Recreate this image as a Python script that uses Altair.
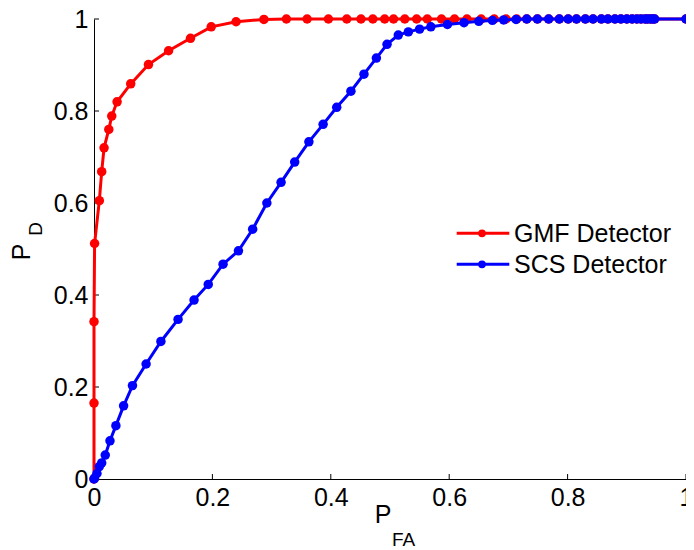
import altair as alt
import pandas as pd

# ---- data ----
GMF_X = [0.0, 0.0, 0.0, 0.001, 0.009, 0.013, 0.017, 0.025, 0.030, 0.039, 0.062, 0.092, 0.126,
         0.163, 0.198, 0.240, 0.287, 0.325, 0.360, 0.396, 0.427, 0.451, 0.471, 0.491, 0.506,
         0.525, 0.545, 0.563, 0.587, 0.609, 0.630, 0.654, 0.676, 0.696, 0.714, 0.731,
         0.749, 0.768, 0.786, 0.801, 0.815, 0.830, 0.843, 0.857, 0.868, 0.880, 0.890, 0.900,
         0.909, 0.917, 0.924, 0.931, 0.935, 0.940, 0.944, 0.947, 1.0]
GMF_Y = [0.0, 0.165, 0.342, 0.512, 0.605, 0.668, 0.720, 0.760, 0.789, 0.820, 0.859, 0.901, 0.931,
         0.958, 0.983, 0.994, 0.999, 1.0, 1.0, 1.0, 1.0, 1.0, 1.0, 1.0, 1.0,
         1.0, 1.0, 1.0, 1.0, 1.0, 1.0, 1.0, 1.0, 1.0, 1.0, 1.0,
         1.0, 1.0, 1.0, 1.0, 1.0, 1.0, 1.0, 1.0, 1.0, 1.0, 1.0, 1.0,
         1.0, 1.0, 1.0, 1.0, 1.0, 1.0, 1.0, 1.0, 1.0]

SCS_X = [0.0, 0.001, 0.005, 0.009, 0.013, 0.019, 0.027, 0.037, 0.050, 0.065, 0.088, 0.113,
         0.142, 0.169, 0.193, 0.218, 0.244, 0.268, 0.292, 0.316, 0.339, 0.363, 0.387, 0.410,
         0.434, 0.456, 0.477, 0.495, 0.514, 0.531, 0.550, 0.569, 0.597, 0.625, 0.650, 0.673,
         0.692, 0.713, 0.731,
         0.749, 0.768, 0.786, 0.801, 0.815, 0.830, 0.843, 0.857, 0.868, 0.880, 0.890, 0.900,
         0.909, 0.917, 0.924, 0.931, 0.935, 0.940, 0.944, 0.947, 1.0]
SCS_Y = [0.0, 0.002, 0.012, 0.027, 0.035, 0.052, 0.083, 0.116, 0.159, 0.203, 0.250, 0.299,
         0.347, 0.389, 0.423, 0.467, 0.496, 0.543, 0.600, 0.645, 0.689, 0.733, 0.771, 0.808,
         0.843, 0.880, 0.915, 0.945, 0.965, 0.972, 0.978, 0.983, 0.988, 0.992, 0.995, 0.997,
         0.998, 0.999, 1.0,
         1.0, 1.0, 1.0, 1.0, 1.0, 1.0, 1.0, 1.0, 1.0, 1.0, 1.0, 1.0,
         1.0, 1.0, 1.0, 1.0, 1.0, 1.0, 1.0, 1.0, 1.0]

SERIES = ["GMF Detector", "SCS Detector"]
COLORS = ["#ff0000", "#0000ff"]
TICKS = [0, 0.2, 0.4, 0.6, 0.8, 1.0]

W, H = 592, 460
LEFT = 86
FONT = "Liberation Sans"

xs = alt.Scale(domain=[0, 1], nice=False, zero=False)
ys = alt.Scale(domain=[0, 1], nice=False, zero=False)

def series_layers(xv, yv, color):
    df = pd.DataFrame({"x": xv, "y": yv, "i": range(len(xv))})
    base = alt.Chart(df)
    line = base.mark_line(color=color, strokeWidth=3).encode(
        x=alt.X("x:Q", scale=xs), y=alt.Y("y:Q", scale=ys), order="i:Q")
    pts = base.mark_circle(color=color, size=90, opacity=1).encode(
        x=alt.X("x:Q", scale=xs), y=alt.Y("y:Q", scale=ys))
    return [line, pts]

tick_df = pd.DataFrame({"t": TICKS})
xaxis_layer = alt.Chart(tick_df).mark_rule(color="black", strokeWidth=1).encode(
    x=alt.X("t:Q", scale=xs,
            axis=alt.Axis(title=None, values=TICKS, format="~g", labelFlush=False,
                          ticks=False, grid=False, labelPadding=6)),
    y=alt.value(H), y2=alt.value(H - 5))
yaxis_layer = alt.Chart(tick_df).mark_rule(color="black", strokeWidth=1).encode(
    y=alt.Y("t:Q", scale=ys,
            axis=alt.Axis(title=None, values=TICKS, format="~g", labelFlush=False,
                          ticks=False, grid=False, labelPadding=6)),
    x=alt.value(0), x2=alt.value(5))

layers = [xaxis_layer, yaxis_layer]
layers += series_layers(GMF_X, GMF_Y, COLORS[0])
layers += series_layers(SCS_X, SCS_Y, COLORS[1])

# legend (manual), positions relative to the plot origin
px0 = 8 + LEFT
leg_y = [214.3, 245.3]
for name, col, ly in zip(SERIES, COLORS, leg_y):
    d = pd.DataFrame({"label": [name]})
    b = alt.Chart(d)
    layers.append(b.mark_rule(color=col, strokeWidth=3).encode(
        x=alt.value(456.7 - px0), x2=alt.value(509.3 - px0), y=alt.value(ly)))
    layers.append(b.mark_circle(color=col, size=60, opacity=1).encode(
        x=alt.value(482 - px0), y=alt.value(ly)))
    layers.append(b.mark_text(align="left", baseline="middle", fontSize=25, font=FONT,
                              color="black").encode(
        text="label:N", x=alt.value(514 - px0), y=alt.value(ly + 1)))

# axis titles with subscripts
t = pd.DataFrame({"a": [0]})
layers.append(alt.Chart(t).mark_text(text="P", angle=270, fontSize=25, font=FONT,
                                     align="center", baseline="alphabetic", color="black").encode(
    x=alt.value(30 - px0), y=alt.value(233)))
layers.append(alt.Chart(t).mark_text(text="D", angle=270, fontSize=19, font=FONT,
                                     align="center", baseline="alphabetic", color="black").encode(
    x=alt.value(42 - px0), y=alt.value(210)))
layers.append(alt.Chart(t).mark_text(text="P", fontSize=25, font=FONT,
                                     align="center", baseline="alphabetic", color="black").encode(
    x=alt.value(383 - px0), y=alt.value(504)))
layers.append(alt.Chart(t).mark_text(text="FA", fontSize=19, font=FONT,
                                     align="left", baseline="alphabetic", color="black").encode(
    x=alt.value(392 - px0), y=alt.value(527)))

chart = alt.layer(*layers).properties(
    width=W, height=H,
    autosize=alt.AutoSizeParams(type="none"),
    padding={"left": LEFT, "top": 11, "right": 0, "bottom": 71},
).configure_view(strokeWidth=0).configure_axis(
    domainColor="black", domainWidth=1, labelFont=FONT, labelFontSize=25,
    labelColor="black",
)

chart.save("out.html", embed_options={"renderer": "svg", "actions": False})
